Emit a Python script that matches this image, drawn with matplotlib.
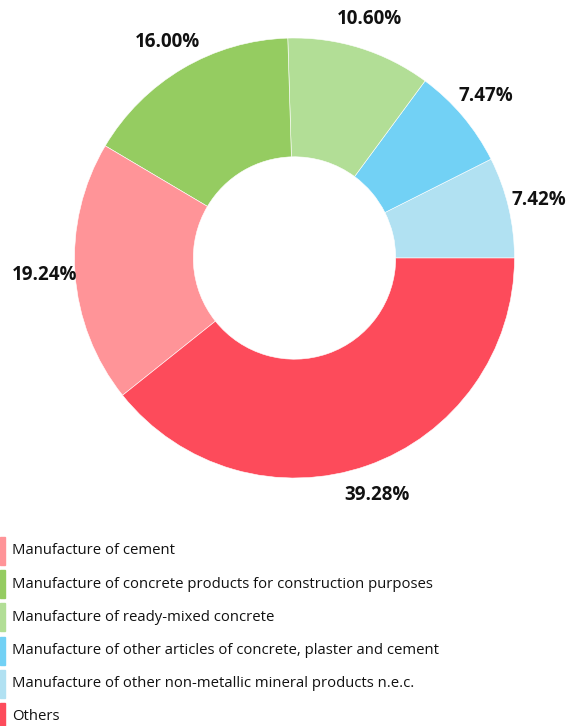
import matplotlib.pyplot as plt
from matplotlib.patches import Rectangle

plt.rcParams['font.family'] = ['Open Sans', 'DejaVu Sans']

categories = [
    "Manufacture of other non-metallic mineral products n.e.c.",
    "Manufacture of other articles of concrete, plaster and cement",
    "Manufacture of ready-mixed concrete",
    "Manufacture of concrete products for construction purposes",
    "Manufacture of cement",
    "Others",
]
shares = [7.42, 7.47, 10.60, 16.00, 19.24, 39.28]
colors = ["#B1E1F2", "#72D1F5", "#B2DE96", "#95CC61", "#FF9498", "#FD4B5B"]

# legend order as in the reference
legend_order = [4, 3, 2, 1, 0, 5]

W, H = 581, 726
fig = plt.figure(figsize=(W / 100, H / 100), dpi=100)

cx, cy, r = 294.5, 258, 220
ax = fig.add_axes([(cx - r) / W, (H - cy - r) / H, 2 * r / W, 2 * r / H])

labels = [f"{v:.2f}%" for v in shares]
wedges, texts = ax.pie(shares, colors=colors, startangle=0, counterclock=True,
                       labels=labels, labeldistance=1.14,
                       wedgeprops=dict(width=0.54, edgecolor="white", linewidth=0.4),
                       textprops=dict(fontsize=13.5, fontweight="bold", color="#111111"))
for t in texts:
    t.set_ha("center")
    t.set_va("center")
ax.set_xlim(-1, 1)
ax.set_ylim(-1, 1)
ax.set_aspect("equal")
ax.axis("off")

# legend: thin color bars on the left edge
y0, step = 551, 33.2
for k, i in enumerate(legend_order):
    yc = y0 + k * step
    fig.patches.append(Rectangle((0, (H - yc - 14) / H), 5 / W, 28 / H,
                                 transform=fig.transFigure, color=colors[i]))
    fig.text(12 / W, (H - yc) / H, categories[i], fontsize=10.75,
             color="#111111", va="center", ha="left")

fig.savefig("out.png", dpi=100)
